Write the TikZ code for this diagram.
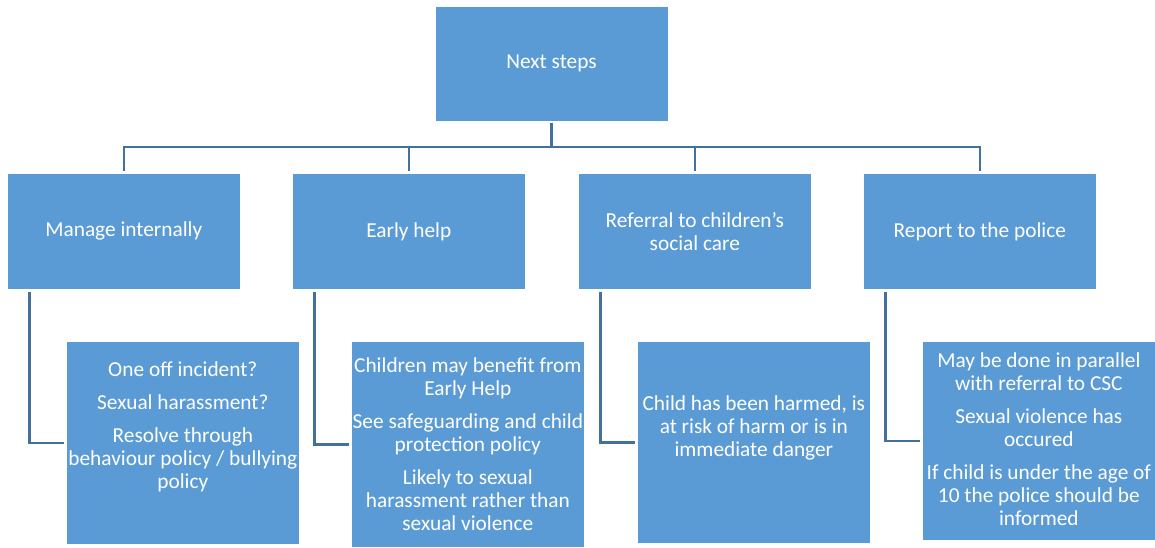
\documentclass[tikz,border=0pt]{standalone}
\usepackage{fontspec}
\setmainfont{Carlito}
\usetikzlibrary{positioning,calc}
\definecolor{boxblue}{HTML}{5B9BD5}
\definecolor{lineblue}{HTML}{41719C}
\tikzset{
  %Define style for boxes
  kasse/.style={
    rectangle,
    fill=boxblue,
    draw=white, line width=0.5pt,
    minimum width=174.75pt,
    inner sep=0pt},
  % Define style for the white text
  tekst/.style={
    text=white,
    align=center,
    inner sep=0pt,
    font=\fontsize{16}{17.25}\selectfont},
  % Define connector style
  forb/.style={
    draw=lineblue,
    line width=1.8pt,
    shorten <=1.5pt,
    shorten >=1.5pt}
}

\begin{document}
\begin{tikzpicture}[x=0.75pt,y=-0.75pt]
  \useasboundingbox (0,0) rectangle (1155,547);
  % top box
  \node[kasse,tekst,minimum height=86.25pt] (next) at (551.5,63.5) {Next steps};
  % second row
  \node[kasse,tekst,minimum height=87pt,anchor=north west] (mi) at (7,173) {Manage internally};
  \node[kasse,tekst,minimum height=87pt,anchor=north west] (eh) at (292,173) {Early help};
  \node[kasse,tekst,minimum height=87pt,anchor=north west] (rc) at (578,173) {Referral to children's\\social care};
  \node[kasse,tekst,minimum height=87pt,anchor=north west] (rp) at (863,173) {Report to the police};
  % third row
  \node[kasse,minimum height=152.25pt,anchor=north west] (mib) at (66,341) {};
  \node[kasse,minimum height=154.5pt,anchor=north west] (ehb) at (351,341) {};
  \node[kasse,minimum height=151.5pt,anchor=north west] (rcb) at (637,341) {};
  \node[kasse,minimum height=149.25pt,anchor=north west] (rpb) at (922,341) {};
  \node[tekst] (mit) at ([yshift=12pt]mib.center)
    {One off incident?\\[7.5pt]Sexual harassment?\\[7.5pt]Resolve through\\behaviour policy / bullying\\policy};
  \node[tekst] (eht) at ([yshift=0.5pt]ehb.center)
    {Children may benefit from\\Early Help\\[7.5pt]See safeguarding and child\\protection policy\\[7.5pt]Likely to sexual\\harassment rather than\\sexual violence};
  \node[tekst] (rct) at ([yshift=10.5pt]rcb.center)
    {Child has been harmed, is\\at risk of harm or is in\\immediate danger};
  \node[tekst] (rpt) at ([yshift=1pt]rpb.center)
    {May be done in parallel\\with referral to CSC\\[7.5pt]Sexual violence has\\occured\\[7.5pt]If child is under the age of\\10 the police should be\\informed};
  % connectors
  \coordinate (bus) at (0,147);
  \foreach \n in {mi,eh,rc,rp}
    \draw[forb] (next.south) -- (next.south |- bus) -| (\n.north);
  \foreach \n in {mi,eh,rc,rp}
    \draw[forb] ($(\n.south west)+(22.5,0)$) |- (\n b.west);
\end{tikzpicture}
\end{document}
